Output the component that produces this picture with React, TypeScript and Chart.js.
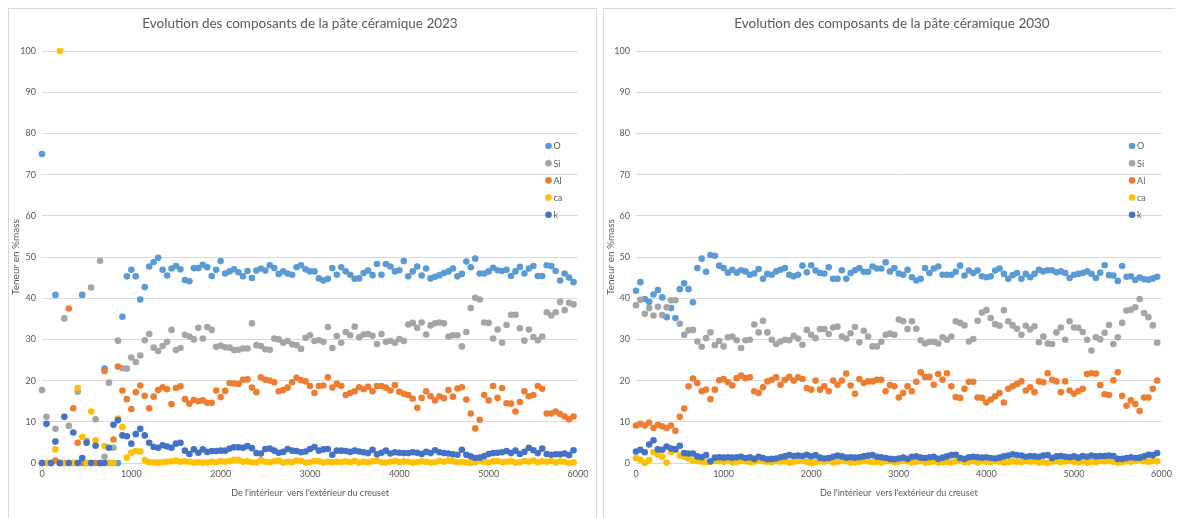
import React, { useEffect, useRef } from "react";
import { Chart, registerables } from "chart.js";

Chart.register(...registerables);

// ---------- data ----------
const DISTANCE_STEP = 50; // distance between two measurement points
const POINT_COUNT = 120;
const DISTANCES = Array.from({ length: POINT_COUNT }, (_, i) => i * DISTANCE_STEP);

const SERIES_LABELS = ["O", "Si", "Al", "ca", "k"];
const SERIES_COLORS = ["#5B9BD5", "#A5A5A5", "#ED7D31", "#FFC000", "#4472C4"];

const X_TICKS = [0, 1000, 2000, 3000, 4000, 5000, 6000];
const Y_TICKS = [0, 10, 20, 30, 40, 50, 60, 70, 80, 90, 100];

const TITLE_2023 = "Evolution des composants de la pâte céramique 2023";
const TITLE_2030 = "Evolution des composants de la pâte céramique 2030";
const X_TITLE = "De l'intérieur  vers l'extérieur du creuset";
const Y_TITLE = "Teneur en %mass";

// 2023
const O_2023 = [75, 0, 0, 40.8, 0, 0, 0, 0, 0, 40.8, 0, 0, 0, 0, 22.9, 0, 0, 0,
  35.5, 45.3, 46.9, 45.3, 39.7, 42.7, 47.7, 48.8, 49.8, 46.9, 45.5, 47.2, 47.8, 47.0, 44.4, 44.1, 47.3, 47.3, 48.1, 47.5, 45.4, 46.9, 49.0, 46.0, 46.5, 47.0, 46.3, 45.3, 46.6,
  44.9, 46.7, 47.2, 46.7, 48.0, 47.3, 45.9, 46.5, 46.0, 45.7, 47.5, 48.0, 47.0, 46.5, 46.5, 44.8, 44.3, 44.7, 47.3, 45.7, 47.5,
  46.5, 45.7, 44.7, 44.8, 46.1, 46.7, 45.6, 48.3, 45.7, 48.3, 47.7, 46.5, 46.8, 49.0, 45.3, 46.5, 47.7, 45.5, 47.2, 44.8, 45.2, 45.6, 46.1, 46.5, 47.2, 45.3, 45.9, 48.9, 47.5, 49.6, 46.0,
  46.0, 46.5, 47.4, 46.8, 46.6, 46.9, 45.4, 46.5, 47.6, 46.0, 47.2, 47.8, 45.4, 45.4, 48.0, 47.8, 46.6, 44.3, 46.0, 45.0, 43.9];
const SI_2023 = [17.7, 11.2, 0, 8.3, 0, 35.1, 9.0, 0, 17.3, 0, 5.3, 42.6, 10.6, 49.1, 1.5, 19.5, 3.7, 29.7,
  23.0, 22.9, 25.6, 24.5, 26.1, 29.8, 31.3, 28.0, 27.2, 28.4, 29.4, 32.3, 27.4, 27.9, 31.1, 30.7, 30.0, 32.8, 30.2, 33.0, 32.3, 28.2, 28.5, 28.1, 28.0, 27.4, 27.5, 27.8, 27.8,
  33.9, 28.6, 28.4, 27.6, 27.5, 30.2, 30.0, 29.2, 29.6, 28.8, 28.6, 27.7, 30.4, 31.0, 29.6, 29.8, 29.4, 33.0, 27.9, 30.8, 29.2,
  31.8, 31.0, 33.1, 30.5, 31.2, 31.3, 30.9, 28.9, 31.3, 29.4, 29.6, 29.2, 30.1, 29.6, 33.6, 34.0, 32.8, 34.1, 31.2, 33.4, 33.9, 34.1, 33.9, 30.7, 31.0, 31.0, 28.3, 31.8, 37.6, 40.1, 39.7,
  34.1, 34.0, 30.2, 32.4, 29.2, 33.5, 36.0, 36.0, 32.7, 29.7, 32.4, 30.6, 29.8, 30.7, 36.6, 35.8, 36.6, 39.1, 37.1, 38.9, 38.5];
const AL_2023 = [0, 0, 0, 0.6, 0, 0, 37.5, 13.3, 4.9, 0, 0, 0, 0, 0, 22.3, 0, 5.7, 23.4,
  17.6, 15.5, 13.1, 17.2, 18.8, 16.3, 13.3, 16.1, 17.7, 18.4, 17.9, 14.3, 18.2, 18.6, 15.5, 14.4, 15.3, 15.0, 15.2, 14.6, 14.6, 17.6, 16.0, 17.5, 19.4, 19.3, 19.2, 20.2, 20.3,
  18.3, 17.2, 20.8, 20.2, 20.0, 19.6, 17.4, 17.7, 18.3, 19.6, 20.7, 20.1, 19.8, 18.7, 17.0, 18.7, 18.8, 20.8, 18.3, 19.2, 18.7,
  16.5, 17.0, 17.4, 18.4, 17.9, 18.5, 17.4, 18.7, 18.7, 18.3, 17.6, 18.9, 17.3, 16.8, 16.5, 15.6, 13.4, 15.8, 17.4, 16.2, 15.2, 16.2, 15.7, 17.7, 16.1, 18.1, 18.4, 15.4, 12.0, 8.4, 10.5,
  16.5, 15.2, 18.7, 15.8, 18.2, 14.5, 14.4, 12.5, 14.8, 17.4, 16.2, 16.5, 18.7, 18.0, 12.0, 12.0, 12.5, 11.9, 11.3, 10.6, 11.3];
const CA_2023 = [0, 0, 0, 3.3, 100, 0, 0, 0, 18.2, 6.3, 0, 12.5, 5.5, 0, 4.1, 0, 0, 10.8,
  8.7, 1.3, 2.5, 2.9, 2.8, 0.7, 0.2, 0.1, 0.1, 0.2, 0.3, 0.4, 0.6, 0.3, 0.4, 0.3, 0.1, 0.2, 0.1, 0.1, 0.3, 0.2, 0.4, 0.3, 0.5, 0.8, 0.7, 0.3, 0.4,
  0.2, 0.1, 0.8, 0.3, 0.2, 0.4, 0.6, 0.1, 0.3, 0.2, 0.6, 0.5, 0.1, 0.2, 0.5, 0.4, 0.1, 0.3, 0.2, 0.3, 0.2,
  0.4, 0.2, 0.5, 0.1, 0.3, 0.2, 0.4, 0.6, 0.2, 0.1, 0.3, 0.5, 0.2, 0.4, 0.3, 0.1, 0.2, 0.4, 0.3, 0.1, 0.2, 0.5, 0.3, 0.6, 0.4, 0.2, 0.3, 0.1, 0.0, 0.2, 0.6,
  0.3, 0.1, 0.4, 0.5, 0.2, 0.3, 0.4, 0.1, 0.2, 0.5, 0.3, 0.6, 0.2, 0.4, 0.3, 0.5, 0.1, 0.4, 0.3, 0.0, 0.2];
const K_2023 = [0, 9.5, 0, 5.2, 0, 11.2, 0, 7.4, 0, 1.2, 4.9, 0, 4.2, 0, 0, 3.7, 9.3, 10.4,
  6.7, 6.5, 4.7, 7.0, 8.3, 6.7, 4.9, 3.9, 3.7, 4.3, 4.0, 3.7, 4.7, 4.9, 3.0, 2.2, 3.3, 2.5, 3.3, 2.7, 2.9, 2.9, 3.0, 3.0, 3.5, 3.8, 3.8, 3.7, 4.1,
  3.6, 2.4, 2.3, 3.4, 3.5, 3.0, 2.5, 2.7, 3.4, 3.0, 2.9, 2.6, 2.8, 3.4, 3.9, 3.0, 3.3, 3.4, 2.0, 3.0, 3.0,
  2.9, 2.7, 3.0, 2.8, 2.6, 2.4, 3.2, 2.1, 2.5, 3.0, 2.3, 2.6, 2.5, 2.4, 2.4, 2.6, 2.5, 2.2, 2.7, 2.4, 3.1, 2.6, 2.4, 2.3, 2.1, 2.0, 3.2, 2.0, 1.6, 1.2, 1.3,
  1.7, 2.2, 2.4, 2.5, 2.6, 2.9, 2.4, 3.0, 2.2, 2.7, 3.7, 3.1, 2.4, 3.5, 2.2, 2.0, 2.1, 2.1, 2.3, 1.9, 3.1];

// 2030
const O_2030 = [41.8, 43.9, 39.8, 39.1, 40.9, 42.0, 40.2, 35.4, 37.6, 35.2, 42.2, 43.6, 42.2, 39.0, 47.3, 49.6, 46.4, 50.5, 50.3, 47.9, 47.3, 46.2, 46.9, 46.2, 46.8, 46.5, 45.7, 46.0, 47.1, 44.7, 45.9, 45.7, 46.5, 46.9, 47.3,
  45.7, 45.3, 45.7, 47.9, 46.3, 48.0, 46.7, 46.1, 46.0, 47.5, 44.7, 44.7, 46.8, 44.7, 46.1, 46.8, 47.3, 46.4, 46.4, 47.7, 47.2, 47.2, 48.7, 46.5, 47.3, 46.0, 45.7, 46.9, 45.1, 44.3, 44.7, 47.3, 46.1, 47.2,
  47.7, 45.7, 45.7, 45.7, 46.4, 47.9, 45.5, 46.7, 46.1, 46.7, 45.3, 45.1, 45.3, 46.7, 47.2, 45.9, 44.7, 45.6, 46.1, 44.7, 45.9, 45.1, 45.9, 46.9, 46.5, 46.8, 46.8, 46.3, 46.5, 46.1, 44.9, 45.7, 45.9, 46.1, 46.5, 45.9, 44.9,
  46.2, 48.0, 45.6, 45.5, 44.2, 47.8, 45.2, 45.3, 44.4, 45.0, 44.6, 44.5, 44.8, 45.2];
const SI_2030 = [38.3, 39.6, 36.2, 37.6, 35.8, 37.9, 35.9, 37.8, 39.5, 39.5, 33.8, 31.1, 32.2, 32.3, 29.5, 28.2, 30.3, 31.7, 28.6, 29.6, 28.3, 30.5, 30.7, 29.8, 27.9, 29.8, 29.9, 33.6, 31.7, 34.5, 31.7, 29.9, 28.9, 29.5, 29.9,
  29.8, 30.9, 30.2, 28.7, 32.3, 31.1, 30.3, 32.5, 32.5, 31.3, 32.9, 33.1, 30.7, 30.2, 31.5, 33.0, 29.3, 32.1, 30.7, 28.3, 28.3, 29.4, 31.1, 31.4, 31.1, 34.8, 34.4, 32.5, 34.4, 32.6, 29.8, 29.0, 29.4, 29.4,
  29.0, 30.5, 29.9, 30.7, 34.4, 34.0, 33.4, 29.5, 30.1, 34.5, 36.5, 37.1, 35.2, 33.7, 33.3, 37.1, 34.4, 33.4, 32.6, 31.1, 33.3, 32.4, 33.2, 29.3, 30.7, 29.0, 28.9, 31.7, 32.9, 29.9, 34.4, 32.9, 32.8, 31.8, 29.9, 27.3, 30.5,
  30.0, 31.6, 33.5, 28.9, 30.5, 34.0, 37.0, 37.2, 37.8, 39.8, 36.4, 35.4, 33.4, 29.2];
const AL_2030 = [9.1, 9.5, 9.1, 9.8, 8.5, 9.3, 8.9, 8.5, 9.1, 7.8, 11.2, 13.2, 18.6, 20.5, 19.4, 17.4, 17.8, 15.5, 17.8, 20.1, 20.4, 19.6, 18.8, 20.6, 21.2, 20.6, 20.8, 17.4, 17.0, 18.4, 19.8, 20.2, 20.8, 19.0, 20.2,
  20.9, 20.0, 20.8, 20.4, 18.2, 17.8, 20.0, 17.8, 18.6, 17.4, 20.0, 19.0, 20.0, 21.7, 18.8, 16.8, 20.4, 19.4, 19.8, 19.8, 20.2, 20.2, 17.4, 18.9, 18.6, 15.9, 17.0, 18.6, 17.4, 19.7, 22.0, 20.9, 20.9, 19.0,
  21.6, 20.2, 21.8, 18.6, 16.0, 15.8, 18.0, 19.7, 19.7, 15.9, 15.8, 14.7, 15.4, 16.2, 17.0, 14.7, 18.0, 18.6, 19.2, 19.8, 17.6, 18.4, 17.2, 19.8, 19.6, 21.8, 20.2, 19.8, 17.2, 19.8, 17.6, 16.8, 17.4, 18.0, 21.6, 21.8, 21.7,
  18.9, 16.7, 16.5, 20.1, 22.0, 16.3, 13.9, 15.2, 14.3, 12.6, 15.9, 15.9, 18.0, 20.0];
const CA_2030 = [1.2, 0.8, 0.0, 0.7, 2.6, 2.0, 1.5, 0.1, 2.6, 3.2, 1.8, 1.5, 1.1, 0.6, 0.5, 0.3, 0.2, 0.3,
  0.5, 0.4, 0.3, 0.6, 0.2, 0.3, 0.5, 0.4, 0.2, 0.3, 0.6, 0.4, 0.3, 0.2, 0.5, 0.3, 0.4, 0.1, 0.3, 0.5, 0.6, 0.3, 0.0, 0.2, 0.4, 0.3, 0.5, 0.2, 0.3, 0.6, 0.4, 0.1, 0.2, 0.3, 0.5, 0.4, 0.2, 0.3, 0.1, 0.4, 0.5, 0.2, 0.3, 0.6, 0.4, 0.2, 0.3, 0.5, 0.1, 0.2, 0.4,
  0.1, 0.2, 0.3, 0.1, 0.4, 0.6, 0.2, 0.3, 0.5, 0.1, 0.4, 0.3, 0.2, 0.5, 0.3, 0.1, 0.2, 0.4, 0.3, 0.2, 0.5, 0.3, 0.4, 0.1, 0.2, 0.0, 0.3, 0.5, 0.2, 0.4, 0.6, 0.3, 0.2, 0.4, 0.1, 0.3, 0.2, 0.5, 0.4, 0.6, 0.3, 0.1, 0.2, 0.4, 0.3, 0.5, 0.7, 0.4, 0.3, 0.5, 0.4];
const K_2030 = [2.8, 3.2, 2.6, 4.5, 5.5, 3.3, 3.2, 4.0, 3.5, 3.3, 4.2, 2.4, 2.3, 2.3, 1.6, 1.4, 1.9, 0.4,
  1.3, 1.4, 1.3, 1.4, 1.3, 1.4, 1.5, 1.2, 1.4, 1.0, 1.5, 1.2, 0.9, 1.0, 1.1, 1.4, 1.6, 1.9, 1.7, 1.8, 1.7, 2.0, 1.6, 1.9, 1.3, 1.1, 1.2, 1.5, 1.8, 1.6, 1.3, 1.4, 1.3, 1.4, 1.6, 1.8, 1.9, 1.5, 1.4, 1.2, 1.0, 0.9, 1.1, 1.3, 1.0, 1.5, 1.6, 1.3, 1.2, 1.4, 1.5,
  1.0, 1.3, 1.6, 1.9, 2.0, 1.2, 1.0, 1.4, 1.5, 1.4, 1.3, 1.4, 1.2, 1.1, 1.3, 1.6, 1.8, 2.1, 1.9, 1.8, 1.5, 1.7, 1.6, 1.5, 1.8, 1.9, 1.2, 1.6, 1.7, 1.5, 1.4, 1.6, 1.3, 1.7, 1.5, 1.8, 1.6, 1.7, 1.7, 1.8, 1.7, 1.0, 1.0, 1.2, 1.4, 1.2, 1.3, 1.6, 2.0, 1.9, 2.4];

const SERIES_2023 = [O_2023, SI_2023, AL_2023, CA_2023, K_2023];
const SERIES_2030 = [O_2030, SI_2030, AL_2030, CA_2030, K_2030];

// ---------- styling ----------
const FONT = "Lato, 'Open Sans', sans-serif";
const TEXT_COLOR = "#595959";
const GRID_COLOR = "#D9D9D9";

type PanelProps = {
  title: string;
  series: number[][];
  width: number;
  height: number;
  plotLeft: number;
  plotRight: number;
  plotTop: number;
  plotBottom: number;
  titleX: number;
  titleY: number;
};

function Panel(props: PanelProps) {
  const ref = useRef<HTMLCanvasElement | null>(null);

  useEffect(() => {
    const canvas = ref.current;
    if (!canvas) return;
    const xAxisHeight = 44;

    const titlePlugin = {
      id: "panelTitle",
      afterDraw(chart: any) {
        const ctx = chart.ctx;
        ctx.save();
        ctx.font = `13.5px ${FONT}`;
        ctx.fillStyle = TEXT_COLOR;
        ctx.textAlign = "center";
        ctx.textBaseline = "middle";
        ctx.fillText(props.title, props.titleX, props.titleY);
        ctx.restore();
      },
    };

    const legendPlugin = {
      id: "insideLegend",
      afterDatasetsDraw(chart: any) {
        const ctx = chart.ctx;
        const area = chart.chartArea;
        ctx.save();
        ctx.font = `9px ${FONT}`;
        ctx.textBaseline = "middle";
        ctx.textAlign = "left";
        chart.data.datasets.forEach((ds: any, i: number) => {
          const cx = area.right - 29.5;
          const cy = area.top + 95 + i * 17.2;
          ctx.beginPath();
          ctx.arc(cx, cy, 3.3, 0, Math.PI * 2);
          ctx.fillStyle = ds.backgroundColor;
          ctx.fill();
          ctx.fillStyle = TEXT_COLOR;
          ctx.fillText(ds.label, cx + 5, cy + 0.5);
        });
        ctx.restore();
      },
    };

    const datasets = props.series.map((values, idx) => ({
      label: SERIES_LABELS[idx],
      data: values.map((v, i) => ({ x: DISTANCES[i], y: v })),
      backgroundColor: SERIES_COLORS[idx],
      borderColor: SERIES_COLORS[idx],
      pointBackgroundColor: SERIES_COLORS[idx],
      pointBorderColor: SERIES_COLORS[idx],
      pointBorderWidth: 0,
      pointRadius: 3.3,
      showLine: false,
      clip: false as any,
      order: SERIES_LABELS.length - 1 - idx,
    }));

    const chart = new Chart(canvas, {
      type: "scatter",
      data: { datasets },
      options: {
        animation: false,
        responsive: false,
        devicePixelRatio: 1,
        events: [],
        layout: {
          padding: {
            left: 0,
            right: props.width - props.plotRight,
            top: props.plotTop,
            bottom: props.height - props.plotBottom - xAxisHeight,
          },
        },
        plugins: {
          legend: { display: false },
          title: { display: false },
          tooltip: { enabled: false },
        },
        scales: {
          x: {
            type: "linear",
            min: 0,
            max: 6000,
            afterBuildTicks: (s: any) => {
              s.ticks = X_TICKS.map((v) => ({ value: v }));
            },
            afterFit: (s: any) => {
              s.height = xAxisHeight;
            },
            ticks: {
              color: TEXT_COLOR,
              font: { family: FONT, size: 9 },
              padding: 6,
              maxRotation: 0,
              autoSkip: false,
              callback: (v: any) => String(v),
            },
            grid: { display: false, drawTicks: false },
            border: { display: false },
            title: {
              display: true,
              text: X_TITLE,
              color: TEXT_COLOR,
              font: { family: FONT, size: 9 },
              padding: { top: 0, bottom: 9 },
            },
          },
          y: {
            type: "linear",
            min: 0,
            max: 100,
            afterBuildTicks: (s: any) => {
              s.ticks = Y_TICKS.map((v) => ({ value: v }));
            },
            afterFit: (s: any) => {
              s.width = props.plotLeft;
            },
            ticks: {
              color: TEXT_COLOR,
              font: { family: FONT, size: 9 },
              padding: 6,
              autoSkip: false,
              callback: (v: any) => String(v),
            },
            grid: { color: GRID_COLOR, lineWidth: 1, drawTicks: false },
            border: { display: false },
            title: {
              display: true,
              text: Y_TITLE,
              color: TEXT_COLOR,
              font: { family: FONT, size: 10 },
              padding: { top: 1, bottom: 0 },
            },
          },
        },
      },
      plugins: [titlePlugin, legendPlugin],
    });

    return () => {
      chart.destroy();
    };
  }, [props]);

  return (
    <div
      style={{
        width: props.width + 2,
        height: props.height + 2,
        border: `1px solid ${GRID_COLOR}`,
        boxSizing: "border-box",
        background: "#fff",
        flex: "0 0 auto",
        overflow: "hidden",
      }}
    >
      <canvas
        ref={ref}
        width={props.width}
        height={props.height}
        style={{ display: "block", width: props.width, height: props.height }}
      />
    </div>
  );
}

const PANEL_2023: PanelProps = {
  title: TITLE_2023,
  series: SERIES_2023,
  width: 587,
  height: 510,
  plotLeft: 33,
  plotRight: 569,
  plotTop: 42,
  plotBottom: 454,
  titleX: 291,
  titleY: 15,
};

const PANEL_2030: PanelProps = {
  title: TITLE_2030,
  series: SERIES_2030,
  width: 574,
  height: 510,
  plotLeft: 32,
  plotRight: 562,
  plotTop: 42,
  plotBottom: 454,
  titleX: 288,
  titleY: 15,
};

export default function App() {
  return (
    <div style={{ display: "flex", gap: 6, alignItems: "flex-start" }}>
      <Panel {...PANEL_2023} />
      <Panel {...PANEL_2030} />
    </div>
  );
}
